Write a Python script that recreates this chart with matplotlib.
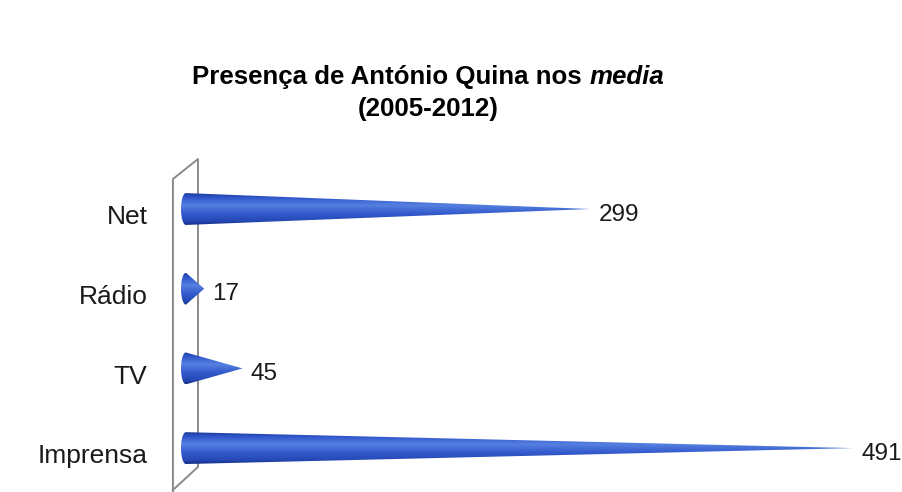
import numpy as np
import matplotlib
matplotlib.use('Agg')
import matplotlib.pyplot as plt
from matplotlib.patches import Polygon
from matplotlib.colors import LinearSegmentedColormap

plt.rcParams['font.family'] = ['Liberation Sans', 'DejaVu Sans']

categorias = ['Net', 'Rádio', 'TV', 'Imprensa']
valores = [299, 17, 45, 491]
titulo1 = 'Presença de António Quina nos '
titulo2 = 'media'
titulo3 = '(2005-2012)'

fig = plt.figure(figsize=(9.02, 4.92), dpi=100)
ax = fig.add_axes([160 / 902, 0, 742 / 902, 352 / 492])
ax.axis('off')

# cor dos cones (gradiente vertical)
cmap = LinearSegmentedColormap.from_list('cone', [
    (0.0, '#16308a'), (0.12, '#2548b4'), (0.35, '#3359cc'),
    (0.62, '#5580e0'), (0.85, '#3158cc'), (1.0, '#1e3c9e')])
grad = np.linspace(0, 1, 128).reshape(-1, 1)

# parede (decoracao 3D do eixo)
wall_x = [-5.9, -5.9, 12.4, 12.4, -5.9]
wall_y = [-0.6, 3.376, 3.627, -0.237, -0.526]
ax.plot(wall_x, wall_y, color='#8a8a8a', lw=1.4, clip_on=False, zorder=1)

ypos = np.arange(len(categorias))[::-1]
h = 0.2
e = 3.6
for y, v in zip(ypos, valores):
    t = np.linspace(np.pi / 2, 3 * np.pi / 2, 40)
    pts = np.column_stack([e + e * np.cos(t), y + h * np.sin(t)])
    pts = np.vstack([pts, [[v, y]]])
    poly = Polygon(pts, closed=True, facecolor='none', edgecolor='none',
                   transform=ax.transData)
    ax.add_patch(poly)
    im = ax.imshow(grad, cmap=cmap, aspect='auto', origin='lower',
                   extent=(0, v, y - h, y + h), zorder=3)
    im.set_clip_path(poly)
    ax.annotate(str(v), (v, y), xytext=(6, -4), textcoords='offset points',
                ha='left', va='center', fontsize=17.5, color='#1a1a1a',
                annotation_clip=False)
    ax.annotate(categorias[3 - y], (-15.35, y), xytext=(-9, -6),
                textcoords='offset points', ha='right', va='center',
                fontsize=19, color='#1a1a1a', annotation_clip=False)

ax.set_xlim(-15.35, 527)
ax.set_ylim(-0.551, 3.866)

# titulo com "media" em italico
r = fig.canvas.get_renderer()
t1 = fig.text(0, 1 - 77 / 492, titulo1, fontsize=18.6, fontweight='bold',
              ha='left', va='center')
t2 = fig.text(0, 1 - 77 / 492, titulo2, fontsize=18.6, fontweight='bold',
              style='italic', ha='left', va='center')
w1 = t1.get_window_extent(r).width
w2 = t2.get_window_extent(r).width
x0 = 428 - (w1 + w2) / 2
t1.set_x(x0 / 902)
t2.set_x((x0 + w1) / 902)
fig.text(428 / 902, 1 - 109 / 492, titulo3, fontsize=18.6, fontweight='bold',
         ha='center', va='center')

fig.savefig('out.png', dpi=100, facecolor='white')
